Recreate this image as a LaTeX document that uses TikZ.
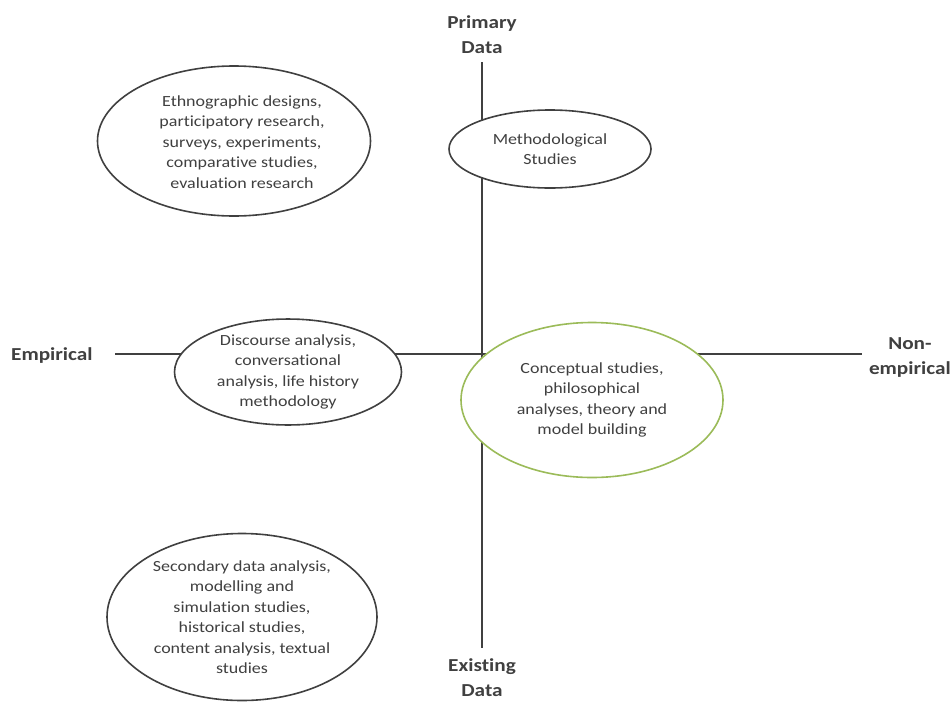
\documentclass[tikz,border=0pt]{standalone}
\usepackage{fontspec}
\setmainfont{Carlito}[FakeStretch=1.16, Ligatures=CommonOff]
\usetikzlibrary{shapes.geometric}
\definecolor{ink}{HTML}{404040}
\definecolor{leaf}{HTML}{9BBB59}
\tikzset{
  axis/.style={draw=ink, line width=1.6pt},
  blob/.style={ellipse, draw=ink, line width=1.6pt, fill=white, inner sep=0pt,
    align=center, text=ink, font=\fontsize{15.5}{20.5}\selectfont},
  note/.style={align=center, text=ink, inner sep=0pt,
    font=\fontsize{15.5}{20.5}\selectfont},
  pole/.style={align=center, text=ink, inner sep=0pt,
    font=\fontsize{18.3}{25}\selectfont\bfseries},
}
\begin{document}
\begin{tikzpicture}[x=1pt, y=-1pt]
\useasboundingbox (0,0) rectangle (952,704);
% axis ends
\coordinate (top) at (482,62);
\coordinate (bottom) at (482,648);
\coordinate (left) at (115,354);
\coordinate (right) at (862,354);
\draw[axis] (top) -- (bottom);
\draw[axis] (left) -- (right);
% pole labels
\node[pole] (primary) at (482,35) {Primary\\Data};
\node[pole] (existing) at (482,678) {Existing\\Data};
\node[pole, anchor=west] (emp) at (11,356) {Empirical};
\node[pole, anchor=east] (nonemp) at (951,357) {Non-\\empirical};
% ellipses
\node[blob, minimum width=273pt, minimum height=150pt] (ethno) at (234,141) {};
\node[note] (ethnotext) at ([xshift=8pt, yshift=-1pt]ethno.center)
  {Ethnographic designs,\\participatory research,\\surveys, experiments,\\comparative studies,\\evaluation research};
\node[blob, minimum width=202pt, minimum height=78pt] (method) at (550,149)
  {Methodological\\Studies};
\node[blob, minimum width=227pt, minimum height=98pt] (disc) at (288,372)
  {Discourse analysis,\\conversational\\analysis, life history\\methodology};
\node[blob, draw=leaf, minimum width=262pt, minimum height=155pt] (concept) at (592,400)
  {Conceptual studies,\\philosophical\\analyses, theory and\\model building};
\node[blob, minimum width=270pt, minimum height=167pt] (second) at (242,617)
  {Secondary data analysis,\\modelling and\\simulation studies,\\historical studies,\\content analysis, textual\\studies};
\end{tikzpicture}
\end{document}
